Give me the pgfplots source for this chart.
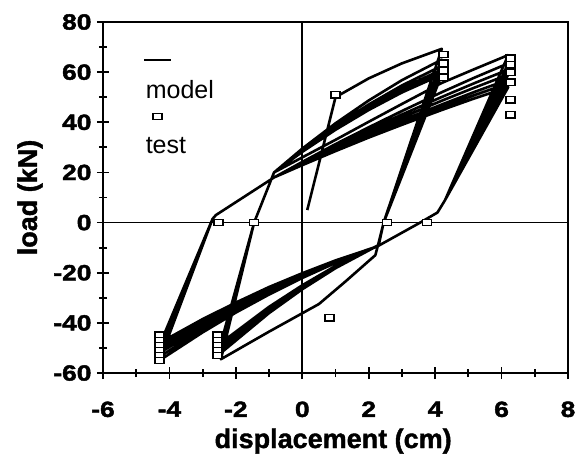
\documentclass[border=0pt]{standalone}
\usepackage{pgfplots}
\pgfplotsset{compat=1.18}
\usepackage{fontspec}
\setmainfont{Liberation Sans}
\newfontfamily\tickfont[FakeStretch=1.2, FakeBold=2]{Liberation Sans Bold}
\newfontfamily\labfont[FakeBold=1.5]{Liberation Sans Bold}
\pgfplotsset{
  modelleg/.style={legend image code/.code={\draw[##1, overlay] (0pt,30pt) -- (27pt,30pt); \path (0pt,0pt);}},
  testleg/.style={legend image code/.code={\draw[##1, overlay] plot coordinates {(13pt,30pt)}; \path (0pt,0pt);}},
}
\begin{document}
\begin{tikzpicture}
\useasboundingbox (-103pt,-86pt) rectangle (472pt,373pt);
\begin{axis}[
  at={(0pt,0pt)}, anchor=south west,
  scale only axis, width=465pt, height=351pt,
  xmin=-6, xmax=8, ymin=-60, ymax=80,
  xtick={-6,-4,...,8}, ytick={-60,-40,...,80},
  minor x tick num=1, minor y tick num=1,
  tick align=center, tick pos=left,
  major tick length=12pt, minor tick length=8pt,
  every tick/.style={black, line width=1.8pt},
  axis line style={line width=2.2pt},
  /pgf/number format/assume math mode=true,
  ticklabel style={font=\tickfont\fontsize{22}{26}\selectfont},
  xticklabel style={yshift=-19pt},
  yticklabel style={xshift=-2pt},
  xlabel={displacement (cm)}, ylabel={load (kN)},
  label style={font=\labfont\fontsize{27}{32}\selectfont},
  xlabel style={at={(axis description cs:0.495,-0.2137)}, anchor=base},
  ylabel style={at={(axis description cs:-0.142,0.5)}, anchor=base},
  legend style={at={(axis description cs:0.086,0.835)}, anchor=north west,
    draw=none, fill=none, inner sep=0pt, row sep=38pt, column sep=0pt,
    nodes={inner sep=0pt}, font=\fontsize{25}{30}\selectfont},
  legend cell align=left,
]
\addplot[black, line width=1.6pt, forget plot] coordinates {(0,-60) (0,80)};
\addplot[black, line width=1.6pt, forget plot] coordinates {(-6,0) (8,0)};

\addplot[black, line width=2.6pt, line join=round, modelleg]
coordinates {
(0.15,5) (1.0,50) (2.0,57.5) (3.0,63.5) (4.2,69.3)
(2.45,0) (2.3,-8) (2.2,-13) (1.3,-23.5) (0.5,-32.5) (-1,-43.5) (-2.45,-54.5)
(-1.45,0) (-0.85,20)
(0,29.5) (1,39.6) (2,48.7) (3,56.8) (4.2,65)
(2.45,0) (2.3,-9) (1,-18.2) (0,-26.6) (-1,-36.1) (-2.45,-52)
(-1.45,0) (-0.85,20)
(0,28.9) (1,38.5) (2,47.1) (3,54.7) (4.2,62.5)
(2.45,0) (2.3,-9) (1,-17.9) (0,-26.0) (-1,-35.2) (-2.45,-50.5)
(-1.45,0) (-0.85,20)
(0,28.6) (1,37.9) (2,46.2) (3,53.5) (4.2,61)
(2.45,0) (2.3,-9) (1,-17.7) (0,-25.6) (-1,-34.6) (-2.45,-49.5)
(-1.45,0) (-0.85,20)
(0,28.4) (1,37.4) (2,45.5) (3,52.7) (4.2,60)
(2.45,0) (2.3,-9) (1,-17.5) (0,-25.2) (-1,-33.9) (-2.45,-48.5)
(-1.45,0) (-0.85,20)
(0,28.2) (1,37.0) (2,44.9) (3,51.9) (4.2,59)
(2.45,0) (2.3,-9) (1,-17.3) (0,-25.0) (-1,-33.6) (-2.45,-48)
(-1.45,0) (-0.85,20)
(0,26) (1,33) (2,40.2) (3,47.3) (4.2,55.7) (5.2,61.3) (6.2,66.8)
(4.3,9) (4.07,4) (3.55,0) (2.26,-9.5) (1,-16.1) (0,-22.1) (-1,-28.7) (-2,-35.9) (-3,-43.8) (-4.3,-55)
(-2.7,1.5) (-2.6,3) (-0.85,18)
(0,24.2) (1,31.3) (2,38.0) (3,44.5) (4.2,52.0) (5.2,57.9) (6.2,63.5)
(4.3,9) (4.07,4) (3.55,0) (2.26,-9.5) (1,-15.9) (0,-21.7) (-1,-28.1) (-2,-35.1) (-3,-42.7) (-4.3,-53.5)
(-2.7,1.5) (-2.6,3) (-0.85,18)
(0,23.9) (1,30.5) (2,36.9) (3,43.1) (4.2,50.1) (5.2,55.7) (6.2,61)
(4.3,9) (4.07,4) (3.55,0) (2.26,-9.5) (1,-15.7) (0,-21.3) (-1,-27.4) (-2,-34.2) (-3,-41.5) (-4.3,-52)
(-2.7,1.5) (-2.6,3) (-0.85,18)
(0,23.6) (1,29.9) (2,36.1) (3,41.9) (4.2,48.6) (5.2,53.9) (6.2,59)
(4.3,9) (4.07,4) (3.55,0) (2.26,-9.5) (1,-15.5) (0,-21.0) (-1,-27.0) (-2,-33.6) (-3,-40.8) (-4.3,-51)
(-2.7,1.5) (-2.6,3) (-0.85,18)
(0,23.3) (1,29.4) (2,35.4) (3,40.7) (4.2,47.1) (5.2,52.2) (6.2,57)
(4.3,9) (4.07,4) (3.55,0) (2.26,-9.5) (1,-15.4) (0,-20.7) (-1,-26.6) (-2,-33.0) (-3,-40.0) (-4.3,-50)
(-2.7,1.5) (-2.6,3) (-0.85,18)
(0,23.1) (1,28.9) (2,34.5) (3,39.9) (4.2,46.0) (5.2,50.9) (6.2,55.5)
(4.3,9) (4.07,4) (3.55,0) (2.26,-9.5) (1,-15.2) (0,-20.4) (-1,-26.2) (-2,-32.5) (-3,-39.3) (-4.3,-49)
(-2.7,1.5) (-2.6,3) (-0.85,18)
(0,22.9) (1,28.5) (2,33.9) (3,39.0) (4.2,44.9) (5.2,49.6) (6.2,54)
(4.3,9) (4.07,4) (3.55,0) (2.26,-9.5) (1,-15.1) (0,-20.2) (-1,-25.7) (-2,-31.9) (-3,-38.5) (-4.3,-48)
};
\addlegendentry{model}

\addplot[only marks, mark=square*, mark size=3.2pt, black,
  mark options={xscale=1.4, fill=white, line width=1.4pt}, testleg]
coordinates {
(1.0,51) (0.82,-38) (-2.52,0) (-1.45,0) (2.55,0) (3.75,0)
(4.25,67) (4.25,63.5) (4.25,60.5) (4.25,58)
(6.27,65.5) (6.27,63) (6.27,60) (6.27,56) (6.27,49) (6.27,43)
(-2.55,-45) (-2.55,-47) (-2.55,-49) (-2.55,-51) (-2.55,-53)
(-4.3,-45) (-4.3,-47) (-4.3,-49) (-4.3,-51) (-4.3,-53) (-4.3,-55)
};
\addlegendentry{test}
\end{axis}
\end{tikzpicture}
\end{document}
